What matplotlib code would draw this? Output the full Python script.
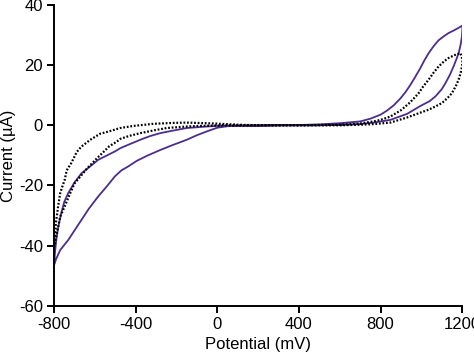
import matplotlib
matplotlib.use("Agg")
import matplotlib.pyplot as plt
import numpy as np

# solid trace: forward branch (outer on the left, lower on the right)
solid_fwd_x = [-800, -790, -770, -750, -731, -700, -666, -630, -584, -540, -502, -470,
               -437, -394, -340, -279, -220, -149, -100, -50, 0, 50, 100, 200, 300, 400,
               500, 600, 700, 766, 848, 930, 1000, 1040, 1069, 1100, 1118, 1140, 1158,
               1172, 1183, 1193, 1199, 1202]
solid_fwd_y = [-46.5, -44.5, -41.5, -39.8, -38.2, -35, -31.5, -27.8, -23.7, -20.2, -17,
               -15, -13.7, -11.8, -10, -8.2, -6.6, -4.8, -3.3, -2, -0.8, -0.3, -0.2, -0.1,
               0, 0, 0, 0.1, 0.4, 0.9, 1.8, 3.8, 6.6, 8, 9.6, 12, 14, 16.8, 19.6, 22, 24,
               27, 29.6, 33.2]
# solid trace: return branch (upper on the right, inner on the left)
solid_rev_x = [1202, 1180, 1158, 1134, 1110, 1085, 1060, 1036, 1015, 995, 971, 946, 922,
               897, 864, 830, 799, 750, 701, 603, 500, 400, 300, 200, 100, 0, -50, -149,
               -220, -279, -330, -377, -437, -475, -502, -540, -584, -620, -666, -700,
               -731, -750, -765, -780, -789, -795, -800]
solid_rev_y = [33.2, 32.3, 31.5, 30.7, 29.6, 28.3, 26.3, 24, 21.6, 19, 16.2, 13.4, 11,
               8.9, 6.6, 4.8, 3.5, 2.2, 1.3, 0.7, 0.3, 0.1, 0, -0.1, -0.1, -0.2, -0.4,
               -0.9, -1.8, -2.6, -3.6, -4.8, -6.5, -7.6, -8.7, -10, -11.5, -13.5, -16,
               -19, -22.6, -25.5, -29.3, -34, -38.2, -42, -46.5]

# dotted trace
dot_fwd_x = [-800, -795, -790, -780, -770, -760, -748, -738, -716, -688, -666, -622,
             -574, -540, -475, -410, -312, -214, -149, -18, 100, 200, 300, 400, 500,
             600, 700, 766, 848, 930, 995, 1036, 1070, 1101, 1130, 1150, 1170, 1183,
             1195, 1202, 1198, 1191]
dot_fwd_y = [-40.5, -36, -32, -27, -22.6, -20.5, -18.2, -15, -12.6, -8.8, -7.1, -4.8,
             -2.8, -2.2, -0.9, -0.2, 0.5, 0.8, 0.9, 0.6, 0.2, 0, 0, 0, 0, 0, 0.2, 0.4,
             0.9, 2.6, 4.2, 5.2, 6.3, 7.4, 9.2, 10.7, 13.2, 15.2, 18, 20.7, 23, 24]
dot_rev_x = [1191, 1165, 1134, 1110, 1085, 1060, 1036, 1010, 987, 960, 938, 900, 848,
             800, 766, 700, 600, 500, 400, 300, 200, 100, 0, -83, -149, -247, -312,
             -377, -430, -475, -492, -530, -560, -590, -640, -699, -721, -748, -770,
             -780, -790, -800]
dot_rev_y = [24, 23.4, 22.4, 21.2, 19.6, 17.5, 15.2, 13, 10.7, 8.7, 7.2, 5, 2.9, 1.8,
             1.3, 0.6, 0.2, 0.1, 0, 0, 0, -0.1, -0.1, -0.2, -0.4, -0.9, -1.7, -2.6,
             -3.5, -4.5, -5.4, -7, -9, -11, -14.5, -19.3, -22.6, -27, -30.4, -34, -37,
             -40.5]

xticks = [-800, -400, 0, 400, 800, 1200]
yticks = [-60, -40, -20, 0, 20, 40]

plt.rcParams['font.family'] = ['Liberation Sans', 'DejaVu Sans']
plt.rcParams['axes.unicode_minus'] = False

fig = plt.figure(figsize=(4.74, 3.58), dpi=100)
ax = fig.add_axes([0.114, 0.146, 0.861, 0.840])

ax.plot(solid_fwd_x + solid_rev_x, solid_fwd_y + solid_rev_y,
        color='#4b2d8f', lw=1.3, solid_joinstyle='round')
ax.plot(dot_fwd_x + dot_rev_x, dot_fwd_y + dot_rev_y,
        color='black', lw=1.6, linestyle=(0, (0.8, 0.8)))

ax.set_xlim(-800, 1200)
ax.set_ylim(-60, 40)
ax.set_xticks(xticks)
ax.set_yticks(yticks)
ax.spines['top'].set_visible(False)
ax.spines['right'].set_visible(False)
for s in ['left', 'bottom']:
    ax.spines[s].set_linewidth(1.4)
ax.tick_params(direction='out', length=5, width=1.4, labelsize=12, pad=3)
ax.set_xlabel('Potential (mV)', fontsize=12, labelpad=4)
ax.set_ylabel('Current (µA)', fontsize=12, labelpad=2)

fig.savefig('out.png', dpi=100)
